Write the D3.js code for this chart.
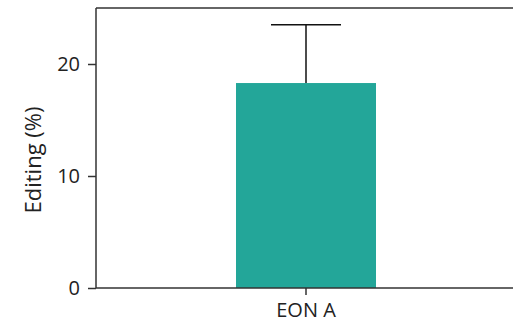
<!DOCTYPE html>
<html lang="en">
<head>
    <meta charset="UTF-8">
    <title>Editing bar</title>
    <script src="https://d3js.org/d3.v7.min.js"></script>
    <style>
        body { margin: 0; background: #fff; }
        svg { display: block; }
        text { font-family: "Open Sans", sans-serif; }
    </style>
</head>
<body>
    <div id="chart"></div>

    <script>
        const categories = ["EON A"];
        const values = [18.3];
        const errors = [5.2];
        const yTicks = [0, 10, 20];

        const width = 513, height = 324;
        const margin = { top: 8, right: -3, bottom: 36, left: 96 };
        const font = "Open Sans";

        const svg = d3.select("#chart").append("svg")
            .attr("width", width)
            .attr("height", height);

        const x = d3.scaleBand()
            .domain(categories)
            .range([margin.left, width - margin.right])
            .paddingInner(0)
            .paddingOuter(1);

        const y = d3.scaleLinear()
            .domain([0, 25])
            .range([height - margin.bottom, margin.top]);

        // bars
        svg.selectAll(".bar")
            .data(categories)
            .enter().append("rect")
            .attr("class", "bar")
            .attr("x", d => x(d))
            .attr("y", (d, i) => y(values[i]))
            .attr("width", x.bandwidth())
            .attr("height", (d, i) => y(0) - y(values[i]))
            .attr("fill", "#23a699");

        // error bars
        categories.forEach((c, i) => {
            const cx = x(c) + x.bandwidth() / 2;
            svg.append("line")
                .attr("x1", cx).attr("x2", cx)
                .attr("y1", y(values[i])).attr("y2", y(values[i] + errors[i]))
                .attr("stroke", "#111").attr("stroke-width", 1.5);
            svg.append("line")
                .attr("x1", cx - 35).attr("x2", cx + 35)
                .attr("y1", y(values[i] + errors[i])).attr("y2", y(values[i] + errors[i]))
                .attr("stroke", "#111").attr("stroke-width", 1.5);
        });

        // axes
        const yAxis = svg.append("g")
            .attr("transform", `translate(${margin.left},0)`)
            .call(d3.axisLeft(y).tickValues(yTicks).tickSize(8).tickPadding(8));

        const xAxis = svg.append("g")
            .attr("transform", `translate(0,${height - margin.bottom})`)
            .call(d3.axisBottom(x).tickSize(7).tickPadding(8));

        [yAxis, xAxis].forEach(g => {
            g.attr("font-family", font).attr("font-size", 20);
            g.select(".domain").remove();
            g.selectAll(".tick line").attr("stroke", "#333").attr("stroke-width", 1.5);
            g.selectAll(".tick text").attr("fill", "#222");
        });

        // spines: left, bottom, top
        svg.append("line")
            .attr("x1", margin.left).attr("x2", margin.left)
            .attr("y1", y(25)).attr("y2", y(0))
            .attr("stroke", "#333").attr("stroke-width", 1.5);
        svg.append("line")
            .attr("x1", margin.left).attr("x2", width)
            .attr("y1", y(0)).attr("y2", y(0))
            .attr("stroke", "#333").attr("stroke-width", 1.5);
        svg.append("line")
            .attr("x1", margin.left).attr("x2", width)
            .attr("y1", y(25)).attr("y2", y(25))
            .attr("stroke", "#333").attr("stroke-width", 1.5);

        svg.append("text")
            .attr("font-family", font)
            .attr("font-size", 22)
            .attr("fill", "#222")
            .attr("text-anchor", "middle")
            .attr("transform", `translate(41,${(y(0) + y(25)) / 2 + 12}) rotate(-90)`)
            .text("Editing (%)");
    </script>
</body>
</html>
